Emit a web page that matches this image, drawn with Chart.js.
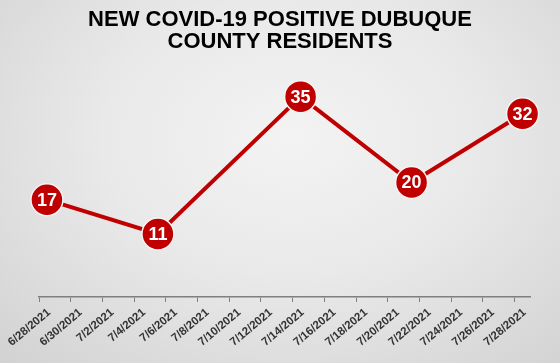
<!DOCTYPE html>
<html>
<head>
<meta charset="utf-8">
<script src="https://cdn.jsdelivr.net/npm/chart.js@4.4.0/dist/chart.umd.min.js"></script>
<style>
    html, body { margin: 0; padding: 0; }
    body {
        width: 560px;
        height: 363px;
        overflow: hidden;
        background: radial-gradient(ellipse 75% 85% at 52% 38%, #f3f3f3 0%, #e9e9e9 45%, #d2d2d2 100%);
    }
    #wrap { position: relative; width: 560px; height: 363px; }
</style>
</head>
<body>
<div id="wrap"><canvas id="casos-chart"></canvas></div>
<script>
// Datos del gráfico
var titulo = ['NEW COVID-19 POSITIVE DUBUQUE', 'COUNTY RESIDENTS'];
var etiquetasEje = ['6/28/2021', '6/30/2021', '7/2/2021', '7/4/2021', '7/6/2021', '7/8/2021',
    '7/10/2021', '7/12/2021', '7/14/2021', '7/16/2021', '7/18/2021', '7/20/2021',
    '7/22/2021', '7/24/2021', '7/26/2021', '7/28/2021'];
var fechas = ['6/28/2021', '7/5/2021', '7/14/2021', '7/21/2021', '7/28/2021'];
var casos = [17, 11, 35, 20, 32];

var rojo = '#c00000';
var fuente = '"Liberation Sans", Arial, sans-serif';
var inicio = new Date('6/28/2021');

// días desde el 6/28 (el punto va en el centro del día)
function diaDe(f) {
    return Math.round((new Date(f) - inicio) / 86400000);
}

var puntos = fechas.map(function (f, i) {
    return { x: diaDe(f) + 0.5, y: casos[i] };
});

// Plugin para escribir el valor dentro de cada círculo y las fechas del eje
var etiquetas = {
    id: 'etiquetas',
    afterDraw: function (chart) {
        var ctx = chart.ctx;
        var ejeX = chart.scales.x;

        // fechas inclinadas
        ctx.save();
        ctx.fillStyle = '#333333';
        ctx.font = 'bold 11.5px ' + fuente;
        ctx.textAlign = 'right';
        ctx.textBaseline = 'middle';
        etiquetasEje.forEach(function (txt) {
            var x = ejeX.getPixelForValue(diaDe(txt));
            ctx.save();
            ctx.translate(x + 10, ejeX.top + 14);
            ctx.rotate(-40 * Math.PI / 180);
            ctx.fillText(txt, 0, 0);
            ctx.restore();
        });
        ctx.restore();

        // valores
        var meta = chart.getDatasetMeta(0);
        ctx.save();
        ctx.fillStyle = '#ffffff';
        ctx.font = 'bold 18px ' + fuente;
        ctx.textAlign = 'center';
        ctx.textBaseline = 'middle';
        meta.data.forEach(function (p, i) {
            ctx.fillText(casos[i], p.x, p.y + 1);
        });
        ctx.restore();
    }
};

var ctx = document.getElementById('casos-chart').getContext('2d');
new Chart(ctx, {
    type: 'line',
    data: {
        datasets: [{
            data: puntos,
            borderColor: rojo,
            borderWidth: 4,
            backgroundColor: rojo,
            pointRadius: 16,
            pointHoverRadius: 16,
            pointBorderColor: '#f4f4f4',
            pointBorderWidth: 1.5,
            tension: 0,
            clip: false
        }]
    },
    options: {
        responsive: true,
        maintainAspectRatio: false,
        animation: false,
        layout: {
            padding: 0
        },
        scales: {
            x: {
                type: 'linear',
                min: 0,
                max: 31,
                grid: {
                    display: true,
                    drawOnChartArea: false,
                    drawTicks: true,
                    tickLength: 5,
                    color: '#7f7f7f'
                },
                border: { display: true, color: '#7f7f7f', width: 1.5 },
                ticks: {
                    display: false
                },
                afterBuildTicks: function (scale) {
                    scale.ticks = etiquetasEje.map(function (txt) {
                        return { value: diaDe(txt) };
                    });
                },
                afterFit: function (scale) {
                    scale.height = 66;
                    scale.paddingLeft = 39;
                    scale.paddingRight = 29.5;
                }
            },
            y: {
                display: false,
                min: 0,
                max: 40
            }
        },
        plugins: {
            legend: { display: false },
            tooltip: { enabled: false },
            title: {
                display: true,
                text: titulo,
                color: '#000000',
                font: { family: fuente, size: 22, weight: 'bold', lineHeight: 1.0 },
                padding: { top: 9, bottom: 15 }
            }
        }
    },
    plugins: [etiquetas]
});
</script>
</body>
</html>
